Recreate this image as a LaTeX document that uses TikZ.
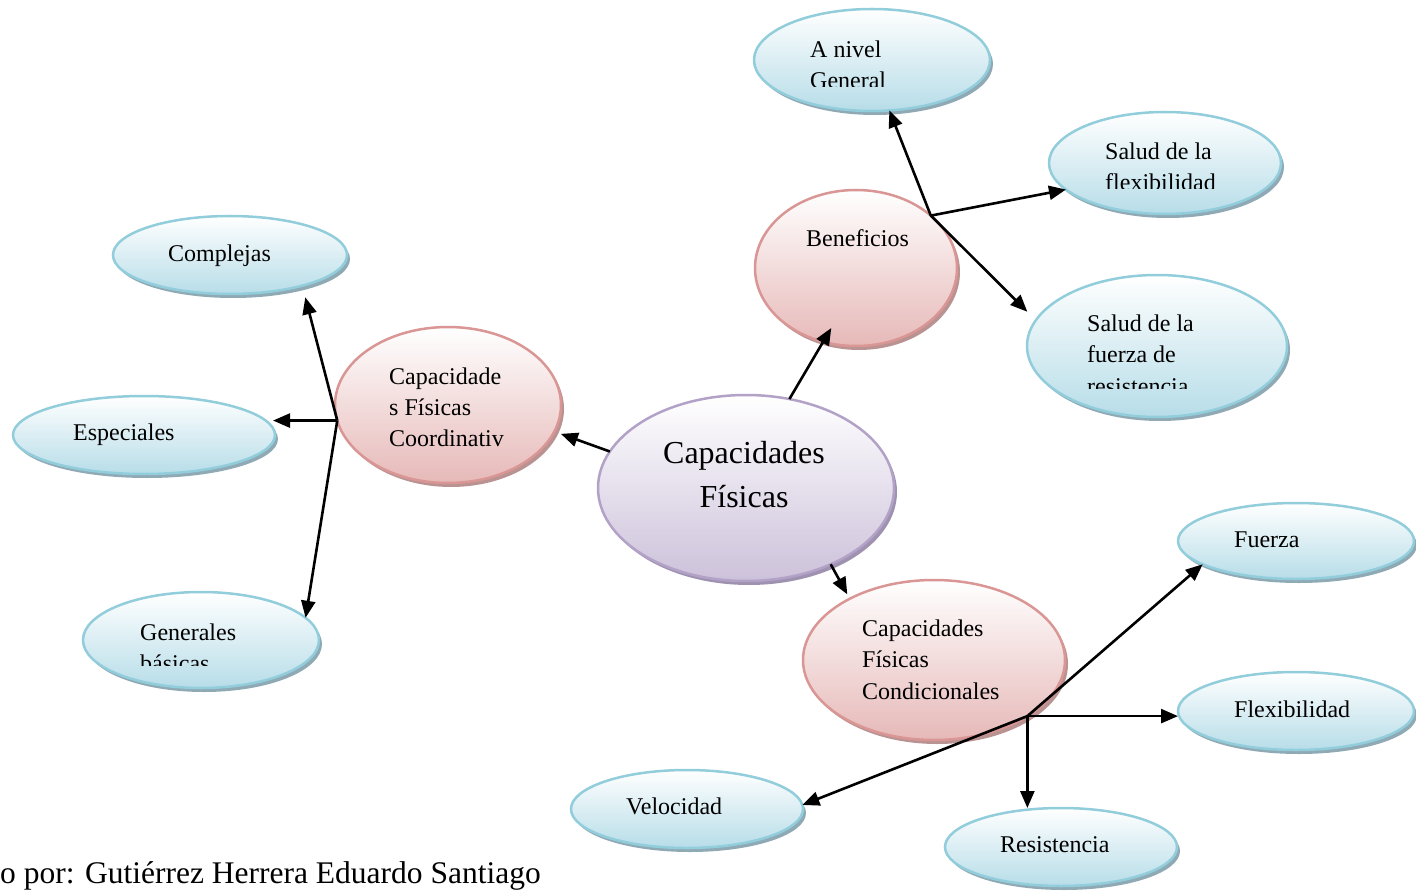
\documentclass[tikz,border=0pt]{standalone}
\usepackage{fontspec}
\setmainfont{Liberation Serif}
\usetikzlibrary{shapes.geometric,arrows.meta,shadows,calc}

\definecolor{blueLine}{HTML}{92CDDC}
\definecolor{blueFill}{HTML}{B7DDE8}
\definecolor{blueShadow}{HTML}{8FAAB5}
\definecolor{pinkLine}{HTML}{D99694}
\definecolor{pinkFill}{HTML}{E6B9B8}
\definecolor{pinkShadow}{HTML}{B99392}
\definecolor{lilacLine}{HTML}{B3A2C7}
\definecolor{lilacFill}{HTML}{CCC1DA}
\definecolor{lilacShadow}{HTML}{9F92B1}

\tikzset{
  bubble/.style={ellipse, inner sep=0pt, outer sep=0pt, line width=2.5pt},
  blueB/.style={bubble, draw=blueLine, top color=white, bottom color=blueFill,
    general shadow={shadow xshift=3pt, shadow yshift=-4pt, fill=blueShadow}},
  pinkB/.style={bubble, draw=pinkLine, top color=white, bottom color=pinkFill,
    general shadow={shadow xshift=3pt, shadow yshift=-4pt, fill=pinkShadow}},
  lilacB/.style={bubble, draw=lilacLine, top color=white, bottom color=lilacFill,
    general shadow={shadow xshift=3pt, shadow yshift=-4pt, fill=lilacShadow}},
  lbl/.style={font=\fontsize{24}{31}\selectfont, anchor=base west, inner sep=0pt},
  big/.style={font=\fontsize{32}{44}\selectfont, anchor=base, inner sep=0pt},
  arr/.style={line width=2.6pt, -{Triangle[length=17pt,width=14pt]}},
}

\begin{document}
\begin{tikzpicture}[x=1pt, y=-1pt]
\useasboundingbox (0,0) rectangle (1416,893);

% bubbles
\node[blueB, minimum width=236pt, minimum height=102pt] (anivel) at (872,60) {};
\node[blueB, minimum width=232pt, minimum height=102pt] (salf) at (1165,163) {};
\node[pinkB, minimum width=202pt, minimum height=156pt] (benef) at (856,268) {};
\node[blueB, minimum width=260pt, minimum height=142pt] (saluf) at (1157,346) {};
\node[blueB, minimum width=234pt, minimum height=78pt] (compl) at (230,255) {};
\node[blueB, minimum width=262pt, minimum height=78pt] (espec) at (144,435) {};
\node[pinkB, minimum width=226pt, minimum height=156pt] (coord) at (448,405) {};
\node[lilacB, minimum width=296pt, minimum height=186pt] (central) at (746,488) {};
\node[blueB, minimum width=236pt, minimum height=96pt] (gener) at (201,640) {};
\node[pinkB, minimum width=262pt, minimum height=160pt] (cond) at (934,660) {};
\node[blueB, minimum width=236pt, minimum height=76pt] (fuerza) at (1296,541) {};
\node[blueB, minimum width=236pt, minimum height=78pt] (flex) at (1296,711) {};
\node[blueB, minimum width=232pt, minimum height=78pt] (veloc) at (687,809) {};
\node[blueB, minimum width=232pt, minimum height=78pt] (resist) at (1061,847) {};

% branching points
\coordinate (jb) at (benef.35);
\coordinate (jc) at (coord.188);
\coordinate (jd) at (cond.-31);

% connectors from the central bubble
\draw[arr, shorten >=-16pt] (central.64) -- (benef.-114);
\draw[arr, shorten >=7pt] (central.165) -- (coord.-14);
\draw[arr, shorten >=5pt] (central.-42) -- (cond.144);

% Beneficios branch
\draw[arr] (jb) -- (anivel.-71);
\draw[arr] (jb) -- (salf.195);
\draw[arr, shorten >=12pt] (jb) -- (saluf.168);

% Coordinativas branch
\draw[arr, shorten >=12pt] (jc) -- (compl.-23);
\draw[arr, shorten >=-2pt] (jc) -- (jc -| espec.east);
\draw[arr] (jc) -- (gener.12);

% Condicionales branch
\draw[arr] (jd) -- (fuerza.194);
\draw[arr] (jd) -- (jd -| flex.west);
\draw[arr] (jd) -- (jd |- resist.north);
\draw[arr] (jd) -- (veloc.2);

% labels
\node[lbl] (anivel-a) at (810,58) {A nivel};
\begin{scope}
  \clip (800,0) rectangle (990,87);
  \node[lbl] (anivel-b) at (810,89) {General};
\end{scope}
\node[lbl] (salf-a) at (1105,160) {Salud de la};
\begin{scope}
  \clip (1095,150) rectangle (1280,189);
  \node[lbl] (salf-b) at (1105,191) {flexibilidad};
\end{scope}
\node[lbl] (benef-a) at (806,247) {Beneficios};
\node[lbl] (saluf-a) at (1087,331) {Salud de la};
\node[lbl] (saluf-b) at (1087,362.7) {fuerza de};
\begin{scope}
  \clip (1080,340) rectangle (1280,388);
  \node[lbl] (saluf-c) at (1087,394) {resistencia};
\end{scope}
\node[lbl] (compl-a) at (168,262) {Complejas};
\node[lbl] (espec-a) at (73,440) {Especiales};
\node[lbl] (coord-a) at (389,384) {Capacidade};
\node[lbl] (coord-b) at (389,415) {s Físicas};
\node[lbl] (coord-c) at (389,446.5) {Coordinativ};
\node[big] (central-a) at (744,463) {Capacidades};
\node[big] (central-b) at (744,507) {Físicas};
\node[lbl] (gener-a) at (140,640) {Generales};
\begin{scope}
  \clip (130,620) rectangle (320,665);
  \node[lbl] (gener-b) at (140,671) {básicas};
\end{scope}
\node[lbl] (cond-a) at (862,636) {Capacidades};
\node[lbl] (cond-b) at (862,667) {Físicas};
\node[lbl] (cond-c) at (862,699) {Condicionales};
\node[lbl] (fuerza-a) at (1234,547) {Fuerza};
\node[lbl] (flex-a) at (1234,717) {Flexibilidad};
\node[lbl] (veloc-a) at (626,814) {Velocidad};
\node[lbl] (resist-a) at (1000,852) {Resistencia};

% credit line
\node[font=\fontsize{31.5}{38}\selectfont, anchor=base west, inner sep=0pt] (credit) at (0,883)
  {o por: Gutiérrez Herrera Eduardo Santiago};
\end{tikzpicture}
\end{document}
